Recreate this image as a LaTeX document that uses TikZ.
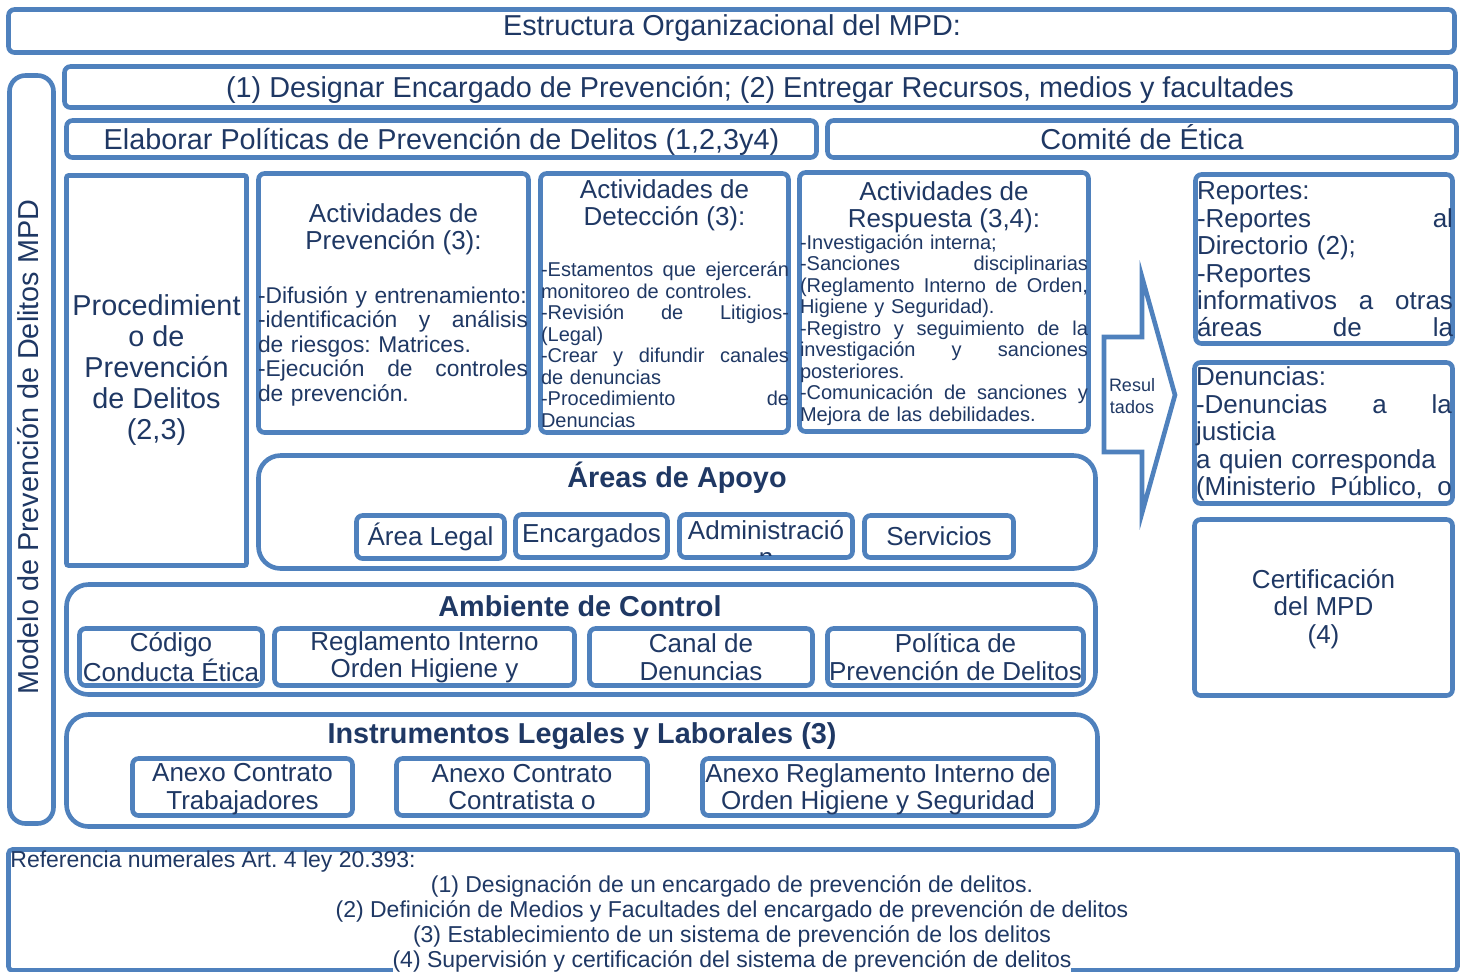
\documentclass[tikz,border=0pt]{standalone}
\usepackage{fontspec}
\setmainfont{Liberation Sans}
\usepackage{tikz}
\usetikzlibrary{positioning}
\definecolor{frameblue}{HTML}{4F81BD}
\definecolor{textnavy}{HTML}{1F3864}
\setlength{\parindent}{0pt}
\frenchspacing
\newlength{\listwidth}
\newcommand{\fullline}[1]{\makebox[\listwidth][s]{\spaceskip=.278em plus 1fil\relax #1}}
\tikzset{
frame box/.style = { rectangle, draw = frameblue, fill = white, line width = 2.3pt, rounded corners = 3pt, inner sep = 0pt, text = textnavy, align = center },
group box/.style = { frame box, rounded corners = 11pt },
frame line/.style = { draw = frameblue, fill = white, line width = 2.3pt, line join = miter },
box size/.style args = {#1 by #2}{ minimum width = #1*0.5pt, minimum height = #2*0.5pt },
list width/.style = { text width = #1, align = left, execute at begin node = {\setlength{\listwidth}{#1}} },
text only/.style = { text = textnavy, inner sep = 0pt },
large text/.style = { font = \fontsize{14.4}{15.5}\selectfont },
big text/.style = { font = \fontsize{13}{13.7}\selectfont },
head text/.style = { font = \bfseries\fontsize{14.4}{15}\selectfont },
body text/.style = { font = \fontsize{11.4}{12.25}\selectfont },
small text/.style = { font = \fontsize{10}{10.75}\selectfont },
arrow text/.style = { font = \fontsize{9}{11}\selectfont, align = center },
note text/.style = { font = \fontsize{11.5}{12.4}\selectfont },
}

\begin{document}
\begin{tikzpicture}[x = 0.5pt, y = -0.5pt]
    \useasboundingbox (0, 0) rectangle (1468, 971);
    \node[frame box, box size = 1446 by 43] (estructura) at (731.5, 31) {};
    \node[text only, large text] (estructura text) at (732, 28) {Estructura Organizacional del MPD:};
    \node[frame box, rounded corners = 8pt, box size = 44 by 748] (modelo) at (31.5, 449.5) {};
    \node[text only, large text, rotate = 90] (modelo text) at (28.5, 447) {Modelo de Prevención de Delitos MPD};
    \node[frame box, box size = 1391 by 41] (designar) at (760, 87) {};
    \node[text only, large text] (designar text) at (760, 90) {(1) Designar Encargado de Prevención; (2) Entregar Recursos, medios y facultades};
    \node[frame box, box size = 750 by 37] (politicas) at (441.5, 139) {};
    \node[text only, large text] (politicas text) at (441.5, 142) {Elaborar Políticas de Prevención de Delitos (1,2,3y4)};
    \node[frame box, box size = 629 by 37] (comite) at (1142, 139) {};
    \node[text only, large text] (comite text) at (1142, 137) {Comité de Ética};

    \node[frame box, rounded corners = 1pt, box size = 180 by 390, large text] (procedimiento) at (156.5, 370.5) {Procedimient\\o de\\Prevención\\de Delitos\\(2,3)};

    \node[frame box, box size = 270 by 259] (prevencion) at (393.5, 303) {};
    \node[text only, big text, align = center] (prevencion title) at (393.5, 229) {Actividades de\\Prevención (3):};
    \node[text only, body text, list width = 135pt] (prevencion list) at (393, 346) {-Difusión y entrenamiento:\\\fullline{-identificación y análisis}\\de riesgos: Matrices.\\\fullline{-Ejecución de controles}\\de prevención.};

    \node[frame box, box size = 248 by 259] (deteccion) at (664.5, 303) {};
    \node[text only, big text, align = center] (deteccion title) at (664.5, 205) {Actividades de\\Detección (3):};
    \node[text only, small text, list width = 124pt] (deteccion list) at (665, 344.5) {\fullline{-Estamentos que ejercerán}\\monitoreo de controles.\\\fullline{-Revisión de Litigios-}\\(Legal)\\\fullline{-Crear y difundir canales}\\de denuncias\\\fullline{-Procedimiento de}\\Denuncias};

    \node[frame box, box size = 289 by 259] (respuesta) at (944, 302) {};
    \node[text only, big text, align = center] (respuesta title) at (944, 207) {Actividades de\\Respuesta (3,4):};
    \node[text only, small text, list width = 144pt] (respuesta list) at (944, 330) {-Investigación interna;\\\fullline{-Sanciones disciplinarias}\\\fullline{(Reglamento Interno de Orden,}\\Higiene y Seguridad).\\\fullline{-Registro y seguimiento de la}\\\fullline{investigación y sanciones}\\posteriores.\\\fullline{-Comunicación de sanciones y}\\Mejora de las debilidades.};

    \draw[frame line] (1104, 337) -- (1142, 337) -- (1142, 277) -- (1175, 395) -- (1142, 513) -- (1142, 452) -- (1104, 452) -- cycle;
    \node[text only, arrow text] (resultados) at (1132, 396) {Resul\\tados};

    \node[frame box, box size = 257 by 169] (reportes) at (1324, 259) {};
    \node[text only, big text, list width = 128pt] (reportes text) at (1325, 259.5) {Reportes:\\\fullline{-Reportes al}\\Directorio (2);\\-Reportes\\\fullline{informativos a otras}\\\fullline{áreas de la}};
    \node[frame box, box size = 258 by 141] (denuncias) at (1323.5, 433) {};
    \node[text only, big text, list width = 128pt] (denuncias text) at (1324, 434) {Denuncias:\\\fullline{-Denuncias a la}\\justicia\\a quien corresponda\\\fullline{(Ministerio Público, o}};
    \node[frame box, box size = 258 by 176] (certificacion) at (1323.5, 607.5) {};
    \node[text only, big text, align = center] (certificacion text) at (1323.5, 609) {Certificación\\del MPD\\(4)};

    \node[group box, box size = 837 by 113] (apoyo) at (677, 512) {};
    \node[text only, head text] (apoyo title) at (677, 478) {Áreas de Apoyo};
    \node[frame box, box size = 148 by 43, big text] (legal) at (430.5, 537) {Área Legal};
    \node[frame box, box size = 152 by 43, big text] (encargados) at (591.5, 536) {Encargados};
    \node[frame box, box size = 173 by 43] (administracion) at (766, 536) {};
    \begin{scope}
        \clip (682, 517) rectangle (850, 555);
        \node[text only, big text, align = center] (administracion text) at (766, 543.5) {Administració\\n};
    \end{scope}
    \node[frame box, box size = 149 by 42, big text] (servicios) at (939, 536.5) {Servicios};

    \node[group box, box size = 1029 by 110] (ambiente) at (581, 639.5) {};
    \node[text only, head text] (ambiente title) at (580, 606) {Ambiente de Control};
    \node[frame box, box size = 183 by 57, big text] (codigo) at (171, 657) {Código\\Conducta Ética};
    \node[frame box, box size = 300 by 57, big text] (reglamento) at (424.5, 657) {Reglamento Interno\\Orden Higiene y};
    \node[frame box, box size = 223 by 57, big text] (canal) at (701, 657) {Canal de\\Denuncias};
    \node[frame box, box size = 256 by 57, big text] (politica) at (955.5, 657) {Política de\\Prevención de Delitos};

    \node[group box, box size = 1031 by 112] (instrumentos) at (582, 770.5) {};
    \node[text only, head text] (instrumentos title) at (582, 736) {Instrumentos Legales y Laborales (3)};
    \node[frame box, box size = 220 by 57] (anexo trabajadores) at (242.5, 787) {};
    \node[text only, big text, align = center] (anexo trabajadores text) at (242.5, 789) {Anexo Contrato\\Trabajadores};
    \node[frame box, box size = 251 by 57, big text] (anexo contratista) at (522, 787) {Anexo Contrato\\Contratista o};
    \node[frame box, box size = 351 by 57] (anexo reglamento) at (878, 787) {};
    \node[text only, big text, align = center] (anexo reglamento text) at (878, 789) {Anexo Reglamento Interno de\\Orden Higiene y Seguridad};

    \node[frame box, rounded corners = 2pt, box size = 1449 by 121] (referencia) at (733, 910) {};
    \node[text only, note text, anchor = west] (referencia title) at (10, 862) {Referencia numerales Art. 4 ley 20.393:};
    \foreach \linea [count = \i] in {{(1) Designación de un encargado de prevención de delitos.}, {(2) Definición de Medios y Facultades del encargado de prevención de delitos}, {(3) Establecimiento de un sistema de prevención de los delitos}, {(4) Supervisión y certificación del sistema de prevención de delitos}}
        \node[text only, note text, fill = white] (numeral \i) at (732, 862 + 24.75*\i) {\linea};
\end{tikzpicture}
\end{document}
